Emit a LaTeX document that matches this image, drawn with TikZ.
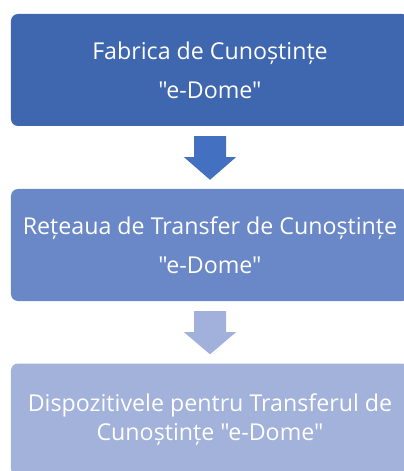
\documentclass[tikz,border=0pt]{standalone}
\usepackage{fontspec}
\setmainfont{Open Sans}[Ligatures=TeXOff]
\usetikzlibrary{calc}
\definecolor{boxA}{RGB}{63,103,176}
\definecolor{arrA}{RGB}{68,112,194}
\definecolor{boxB}{RGB}{106,136,199}
\definecolor{arrB}{RGB}{161,177,220}
\definecolor{boxC}{RGB}{162,178,219}
\tikzset{stage/.style={rounded corners=7bp, inner sep=0pt, minimum width=398bp, minimum height=112bp, text=white, align=center, font=\fontsize{23.3}{29}\selectfont}}
\begin{document}
\begin{tikzpicture}[x=1bp, y=-1bp]
 \useasboundingbox (0,0) rectangle (403,471);
 \def\shaft{16} \def\head{26}
 \node[stage, fill=boxA] (fab) at (210,70) {Fabrica de Cunoștințe\\[10bp]"e-Dome"};
 \node[stage, fill=boxB] (retea) at (210,245) {Rețeaua de Transfer de Cunoștințe\\[10bp]"e-Dome"};
 \node[stage, fill=boxC] (disp) at (210,419.5) {Dispozitivele pentru Transferul de\\Cunoștințe "e-Dome"};
 % block arrows between the stages
 \foreach \a/\b/\c in {fab/retea/arrA, retea/disp/arrB}
  \fill[\c] ($(\a.south)+(-\shaft,10)$) -- ($(\a.south)+(\shaft,10)$) -- ($(\a.south)+(\shaft,31)$) -- ($(\a.south)+(\head,31)$)
   -- ($(\b.north)+(0,-9)$) -- ($(\a.south)+(-\head,31)$) -- ($(\a.south)+(-\shaft,31)$) -- cycle;
\end{tikzpicture}
\end{document}
